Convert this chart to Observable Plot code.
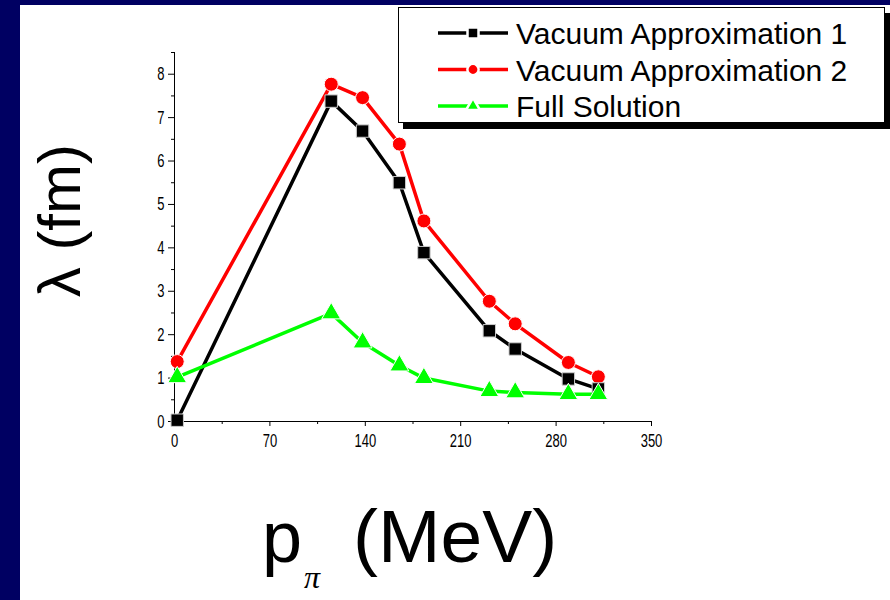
<!DOCTYPE html>
<html><head><meta charset="utf-8">
<script src="https://cdn.jsdelivr.net/npm/d3@7"></script>
<script src="https://cdn.jsdelivr.net/npm/@observablehq/plot@0.6"></script>
<style>
html,body{margin:0;padding:0;background:#000062;width:890px;height:600px;overflow:hidden;}
#panel{position:absolute;left:20px;top:5px;width:870px;height:595px;background:#fff;}
#chart{position:absolute;left:0;top:0;}
</style></head><body>
<div id="panel"></div><div id="chart"></div>
<script>
// Data
const momentum = [2, 115, 138, 165, 183, 231, 250, 289, 311];
const vacuum1 = [0.03, 7.38, 6.69, 5.50, 3.89, 2.09, 1.67, 0.98, 0.75];
const vacuum2 = [1.38, 7.77, 7.46, 6.39, 4.62, 2.77, 2.25, 1.36, 1.03];
const fullSolution = [1.02, 2.49, 1.82, 1.29, 1.00, 0.70, 0.67, 0.63, 0.63];
const seriesNames = ["Vacuum Approximation 1", "Vacuum Approximation 2", "Full Solution"];
const seriesColors = ["#000000", "#ff0000", "#00ff00"];
const seriesSymbols = ["square", "circle", "triangle"];
const xTicks = [0, 70, 140, 210, 280, 350];
const xMinor = [35, 105, 175, 245, 315];
const yTicks = [0, 1, 2, 3, 4, 5, 6, 7, 8];
const yMinor = [0.5, 1.5, 2.5, 3.5, 4.5, 5.5, 6.5, 7.5, 8.5];
const yLabel = "λ (fm)";
const xLabelMain = "p", xLabelSub = "π", xLabelUnit = "(MeV)";

const rows = (vals, k) => momentum.map((m, i) => ({p: m, lambda: vals[i], series: seriesNames[k]}));
const d1 = rows(vacuum1, 0), d2 = rows(vacuum2, 1), d3s = rows(fullSolution, 2);

const seriesMarks = (data, k) => [
  Plot.line(data, {x: "p", y: "lambda", stroke: seriesColors[k], strokeWidth: 3.5}),
  Plot.dot(data, {x: "p", y: "lambda", symbol: seriesSymbols[k], r: 7, fill: seriesColors[k],
    stroke: k === 0 ? "#cccccc" : "#ffffff", strokeWidth: 1})
];

const font = "'Liberation Sans', Arial, sans-serif";
const plot = Plot.plot({
  width: 890, height: 600,
  marginLeft: 174, marginRight: 239, marginTop: 52, marginBottom: 179,
  style: {background: "transparent", fontFamily: font, fontSize: "13px", color: "#000"},
  x: {domain: [0, 350]},
  y: {domain: [0, 8.5]},
  marks: [
    Plot.axisX({ticks: xTicks, tickSize: 5, tickPadding: 7, fontSize: 13, label: null, stroke: "#000"}),
    Plot.axisX({ticks: xMinor, tickSize: 3, tickFormat: () => "", label: null, stroke: "#000"}),
    Plot.axisY({ticks: yTicks, tickSize: 6, tickPadding: 4, fontSize: 13, label: null, stroke: "#000"}),
    Plot.axisY({ticks: yMinor, tickSize: 3, tickFormat: () => "", label: null, stroke: "#000"}),
    Plot.ruleY([0], {stroke: "#000"}),
    Plot.ruleX([0], {stroke: "#000"}),
    ...seriesMarks(d2, 1),
    ...seriesMarks(d1, 0),
    ...seriesMarks(d3s, 2)
  ]
});
document.getElementById("chart").appendChild(plot);

const svg = d3.select(plot);
// tick labels in the reference are vertically stretched
svg.selectAll('g[aria-label$="tick label"] text').each(function() {
  const t = d3.select(this);
  const tr = t.attr("transform");
  if (tr) {
    t.attr("transform", tr + " scale(1,1.45)");
  } else {
    const x = +t.attr("x") || 0, y = +t.attr("y") || 0;
    t.attr("x", null).attr("y", null).attr("transform", `translate(${x},${y}) scale(1,1.45)`);
  }
  t.attr("fill", "#000");
});

// Y label
svg.append("text")
  .attr("transform", "translate(80,144) rotate(-90)")
  .attr("text-anchor", "end")
  .attr("font-family", font).attr("font-size", 60).attr("fill", "#000")
  .text(yLabel);
// X label
const xl = svg.append("text").attr("font-family", font).attr("fill", "#000").attr("text-anchor", "start");
xl.append("tspan").attr("x", 262).attr("y", 562).attr("font-size", 72).text(xLabelMain);
xl.append("tspan").attr("x", 304).attr("y", 588).attr("font-size", 32)
  .attr("font-family", "'Liberation Serif', 'Times New Roman', serif").attr("font-style", "italic").text(xLabelSub);
xl.append("tspan").attr("x", 353).attr("y", 562).attr("font-size", 75).text(xLabelUnit);

// Legend
const lg = svg.append("g");
lg.append("rect").attr("x", 403).attr("y", 13).attr("width", 487).attr("height", 116).attr("fill", "#000");
lg.append("rect").attr("x", 398.5).attr("y", 7.5).attr("width", 486).attr("height", 115)
  .attr("fill", "#fff").attr("stroke", "#000").attr("stroke-width", 1);
const symMap = {square: d3.symbolSquare, circle: d3.symbolCircle, triangle: d3.symbolTriangle};
const symSize = {square: 121, circle: 100, triangle: 85};
seriesNames.forEach((name, k) => {
  const cy = 33 + k * 36.5;
  const g = lg.append("g");
  g.append("line").attr("x1", 438).attr("x2", 508).attr("y1", cy).attr("y2", cy)
    .attr("stroke", seriesColors[k]).attr("stroke-width", 3.5);
  g.append("path").attr("transform", `translate(473,${cy})`)
    .attr("d", d3.symbol(symMap[seriesSymbols[k]], symSize[seriesSymbols[k]])())
    .attr("fill", seriesColors[k]).attr("stroke", "#fff").attr("stroke-width", 2.5);
  g.append("text").attr("x", 516).attr("y", cy + 11).attr("text-anchor", "start")
    .attr("font-family", font).attr("font-size", 30).attr("fill", "#000").text(name);
});
</script>
</body></html>
